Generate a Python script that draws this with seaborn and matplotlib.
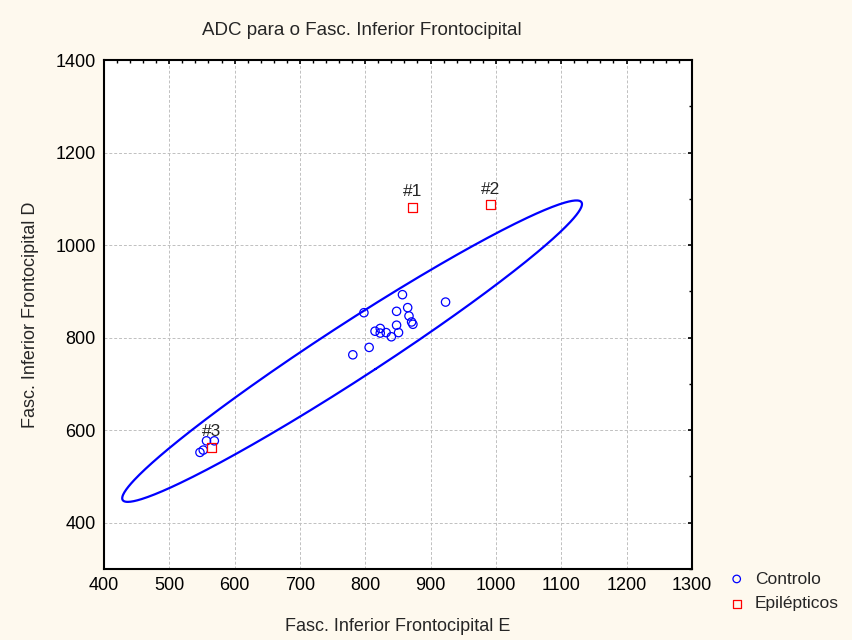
import matplotlib
matplotlib.use('Agg')
import matplotlib.pyplot as plt
from matplotlib.ticker import MultipleLocator
import seaborn as sns
import pandas as pd
import numpy as np

# Controlo (left / right ADC)
ctrl_e = [547, 552, 557, 569, 798, 857, 923, 865, 848, 867, 871,
          873, 848, 815, 823, 823, 832, 840, 851, 806, 781]
ctrl_d = [552, 557, 577, 577, 854, 893, 877, 865, 857, 847, 834,
          829, 827, 814, 820, 810, 811, 802, 811, 779, 763]
# Epilépticos
epi_e = [873, 992, 564]
epi_d = [1082, 1087, 562]
epi_lab = ['#1', '#2', '#3']

df = pd.DataFrame({
    'E': ctrl_e + epi_e,
    'D': ctrl_d + epi_d,
    'grupo': ['Controlo'] * len(ctrl_e) + ['Epilépticos'] * len(epi_e),
})

sns.set_style('white')
plt.rcParams['font.family'] = ['Liberation Sans', 'DejaVu Sans']
fs = 13

fig = plt.figure(figsize=(8.52, 6.4), dpi=100, facecolor='#fef9ee')
ax = fig.add_axes([0.122, 0.111, 0.69, 0.795])
ax.set_facecolor('white')

# open markers: seaborn draws, edge colours per group
sns.scatterplot(data=df[df['grupo'] == 'Controlo'], x='E', y='D', marker='o',
                s=36, facecolors='none', edgecolor='#0000ff', linewidth=0.9,
                label='Controlo', zorder=3, ax=ax)
sns.scatterplot(data=df[df['grupo'] == 'Epilépticos'], x='E', y='D', marker='s',
                s=42, facecolors='none', edgecolor='#ff0000', linewidth=0.9,
                label='Epilépticos', zorder=3, ax=ax)

for xe, yd, lab in zip(epi_e, epi_d, epi_lab):
    ax.annotate(lab, (xe, yd), xytext=(0, 6), textcoords='offset points',
                ha='center', va='bottom', fontsize=12.5)

# prediction ellipse of the control group
pts = np.column_stack([ctrl_e, ctrl_d]).astype(float)
n = len(pts)
mu = pts.mean(axis=0)
cov = np.cov(pts, rowvar=False)
p = 0.95
d2 = n - 2
fq = d2 / 2 * ((1 - p) ** (-2 / d2) - 1)
scale = np.sqrt(2 * (n - 1) / (n - 2) * fq * (1 + 1 / n)) * 1.06
vals, vecs = np.linalg.eigh(cov)
t = np.linspace(0, 2 * np.pi, 400)
circ = np.vstack([np.cos(t), np.sin(t)])
ell = (vecs @ np.diag(np.sqrt(vals)) @ circ) * scale + (mu - 8)[:, None]
ax.plot(ell[0], ell[1], color='#0000ff', lw=1.6, zorder=2)

ax.set_xlim(400, 1300)
ax.set_ylim(300, 1400)
ax.set_xticks(range(400, 1301, 100))
ax.set_yticks(range(400, 1401, 200))
ax.xaxis.set_minor_locator(MultipleLocator(20))
ax.yaxis.set_minor_locator(MultipleLocator(100))
ax.tick_params(which='both', direction='in', top=True, right=True,
               labelsize=fs, colors='black', pad=6)
ax.tick_params(which='major', length=3, width=1.2)
ax.tick_params(which='minor', length=2, width=1)
ax.grid(True, which='major', color='#c0c0c0', linestyle=(0, (3, 2)), linewidth=0.7)
for sp in ax.spines.values():
    sp.set_color('black')
    sp.set_linewidth(1.5)

ax.set_xlabel('Fasc. Inferior Frontocipital E', fontsize=fs, labelpad=17)
ax.set_ylabel('Fasc. Inferior Frontocipital D', fontsize=fs, labelpad=12)
fig.text(0.425, 0.953, 'ADC para o Fasc. Inferior Frontocipital',
         ha='center', va='center', fontsize=13.5)

ax.legend(loc='upper left', bbox_to_anchor=(1.035, 0.026), frameon=False,
          fontsize=12.5, handlelength=1.0, handletextpad=0.55,
          markerscale=0.9, labelspacing=0.55)

fig.savefig('out.png', dpi=100, facecolor=fig.get_facecolor())
